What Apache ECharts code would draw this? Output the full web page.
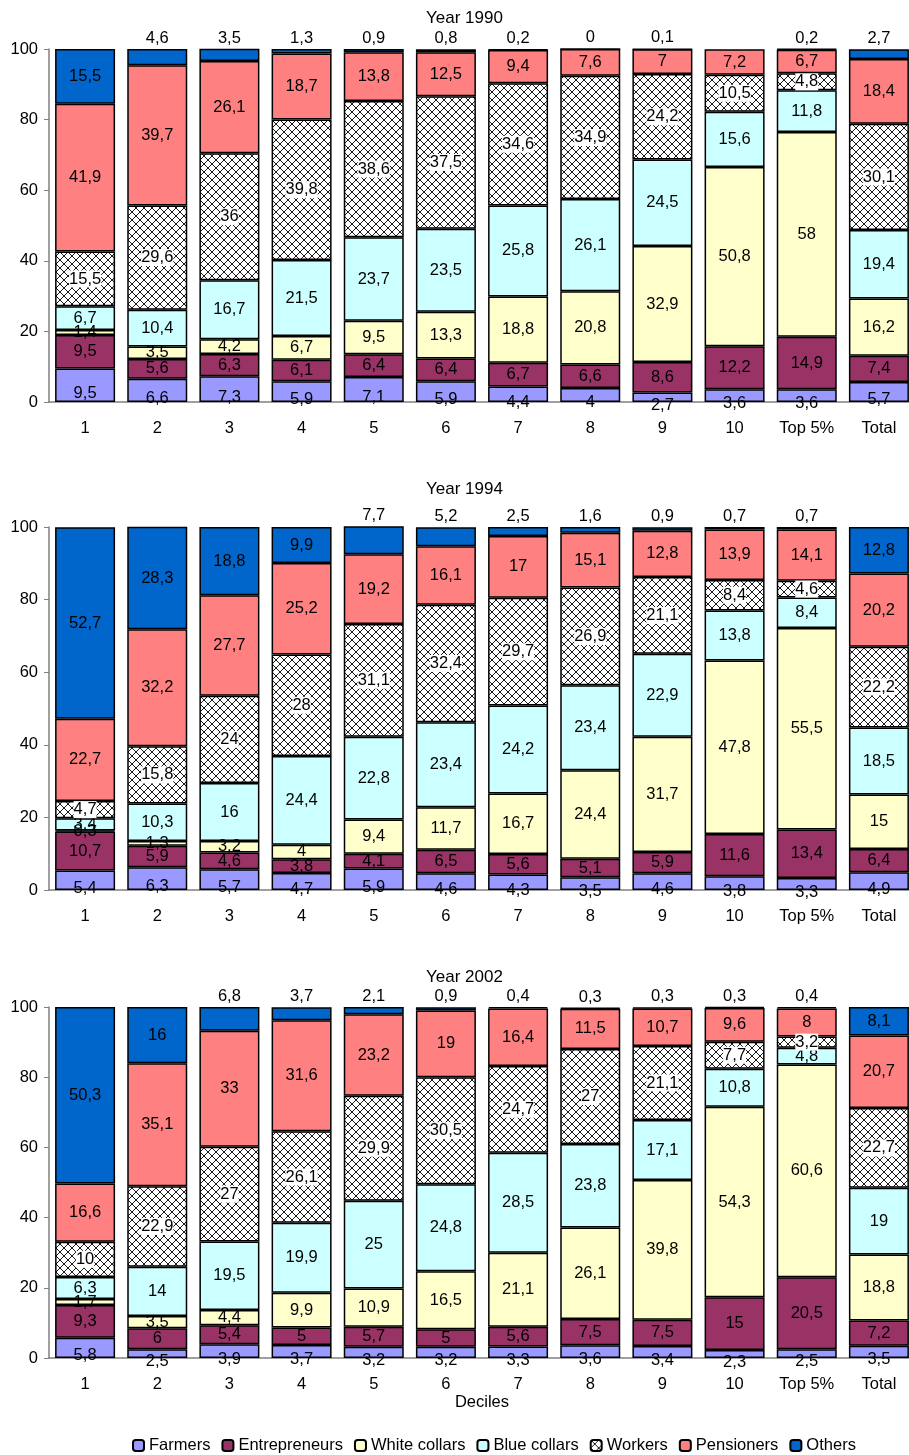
<!DOCTYPE html>
<html>
<head>
<meta charset="utf-8">
<script src="https://cdn.jsdelivr.net/npm/echarts@6/dist/echarts.min.js"></script>
<style>
  html, body { margin: 0; padding: 0; background: #fff; }
  #chart { width: 909px; height: 1455px; }
</style>
</head>
<body>
<div id="chart"></div>
<script>
// categories (deciles)
var categories = ['1', '2', '3', '4', '5', '6', '7', '8', '9', '10', 'Top 5%', 'Total'];
var groups = ['Farmers', 'Entrepreneurs', 'White collars', 'Blue collars', 'Workers', 'Pensioners', 'Others'];
var years = ['Year 1990', 'Year 1994', 'Year 2002'];

// 1990
var farmers1990 = [9.5, 6.6, 7.3, 5.9, 7.1, 5.9, 4.4, 4, 2.7, 3.6, 3.6, 5.7];
var entrepreneurs1990 = [9.5, 5.6, 6.3, 6.1, 6.4, 6.4, 6.7, 6.6, 8.6, 12.2, 14.9, 7.4];
var whiteCollars1990 = [1.4, 3.5, 4.2, 6.7, 9.5, 13.3, 18.8, 20.8, 32.9, 50.8, 58, 16.2];
var blueCollars1990 = [6.7, 10.4, 16.7, 21.5, 23.7, 23.5, 25.8, 26.1, 24.5, 15.6, 11.8, 19.4];
var workers1990 = [15.5, 29.6, 36, 39.8, 38.6, 37.5, 34.6, 34.9, 24.2, 10.5, 4.8, 30.1];
var pensioners1990 = [41.9, 39.7, 26.1, 18.7, 13.8, 12.5, 9.4, 7.6, 7, 7.2, 6.7, 18.4];
var others1990 = [15.5, 4.6, 3.5, 1.3, 0.9, 0.8, 0.2, 0, 0.1, null, 0.2, 2.7];

// 1994
var farmers1994 = [5.4, 6.3, 5.7, 4.7, 5.9, 4.6, 4.3, 3.5, 4.6, 3.8, 3.3, 4.9];
var entrepreneurs1994 = [10.7, 5.9, 4.6, 3.8, 4.1, 6.5, 5.6, 5.1, 5.9, 11.6, 13.4, 6.4];
var whiteCollars1994 = [0.3, 1.3, 3.2, 4, 9.4, 11.7, 16.7, 24.4, 31.7, 47.8, 55.5, 15];
var blueCollars1994 = [3.4, 10.3, 16, 24.4, 22.8, 23.4, 24.2, 23.4, 22.9, 13.8, 8.4, 18.5];
var workers1994 = [4.7, 15.8, 24, 28, 31.1, 32.4, 29.7, 26.9, 21.1, 8.4, 4.6, 22.2];
var pensioners1994 = [22.7, 32.2, 27.7, 25.2, 19.2, 16.1, 17, 15.1, 12.8, 13.9, 14.1, 20.2];
var others1994 = [52.7, 28.3, 18.8, 9.9, 7.7, 5.2, 2.5, 1.6, 0.9, 0.7, 0.7, 12.8];

// 2002
var farmers2002 = [5.8, 2.5, 3.9, 3.7, 3.2, 3.2, 3.3, 3.6, 3.4, 2.3, 2.5, 3.5];
var entrepreneurs2002 = [9.3, 6, 5.4, 5, 5.7, 5, 5.6, 7.5, 7.5, 15, 20.5, 7.2];
var whiteCollars2002 = [1.7, 3.5, 4.4, 9.9, 10.9, 16.5, 21.1, 26.1, 39.8, 54.3, 60.6, 18.8];
var blueCollars2002 = [6.3, 14, 19.5, 19.9, 25, 24.8, 28.5, 23.8, 17.1, 10.8, 4.8, 19];
var workers2002 = [10, 22.9, 27, 26.1, 29.9, 30.5, 24.7, 27, 21.1, 7.7, 3.2, 22.7];
var pensioners2002 = [16.6, 35.1, 33, 31.6, 23.2, 19, 16.4, 11.5, 10.7, 9.6, 8, 20.7];
var others2002 = [50.3, 16, 6.8, 3.7, 2.1, 0.9, 0.4, 0.3, 0.3, 0.3, 0.4, 8.1];

var yTicks = [0, 20, 40, 60, 80, 100];

var yearData = [
  [farmers1990, entrepreneurs1990, whiteCollars1990, blueCollars1990, workers1990, pensioners1990, others1990],
  [farmers1994, entrepreneurs1994, whiteCollars1994, blueCollars1994, workers1994, pensioners1994, others1994],
  [farmers2002, entrepreneurs2002, whiteCollars2002, blueCollars2002, workers2002, pensioners2002, others2002]
];

var FONT = '"Liberation Sans", Arial, sans-serif';
var FS = 16.5;

// crosshatch for workers
function hatch() {
  var c = document.createElement('canvas');
  c.width = 8; c.height = 8;
  var ctx = c.getContext('2d');
  ctx.fillStyle = '#fff';
  ctx.fillRect(0, 0, 8, 8);
  ctx.strokeStyle = '#000';
  ctx.lineWidth = 0.9;
  ctx.beginPath();
  ctx.moveTo(0, 0); ctx.lineTo(8, 8);
  ctx.moveTo(8, 0); ctx.lineTo(0, 8);
  ctx.stroke();
  return c;
}

var colors = ['#9999FF', '#993366', '#FFFFCC', '#CCFFFF', { image: hatch(), repeat: 'repeat' }, '#FF8080', '#0066CC'];

var grids = [
  { left: 49, width: 866, top: 49, height: 353, outerBoundsMode: 'none' },
  { left: 49, width: 866, top: 527, height: 363, outerBoundsMode: 'none' },
  { left: 49, width: 866, top: 1007, height: 351, outerBoundsMode: 'none' }
];
var titleTops = [5, 476, 964];

function fmt(p) {
  return p.value == null ? '' : String(p.value).replace('.', ',');
}

var series = [];
yearData.forEach(function (rows, g) {
  rows.forEach(function (vals, s) {
    var label = { show: true, position: 'inside', color: '#000', fontSize: FS, fontFamily: FONT, formatter: fmt };
    var data = vals;
    if (s === 0) label.offset = [0, 8];
    if (s === 4) label.backgroundColor = '#fff';
    if (s === 6) {
      // small "others" values sit above the bar
      data = vals.map(function (v) {
        if (v != null && v < 8) return { value: v, label: { position: 'top', distance: 2 } };
        return v;
      });
    }
    series.push({
      name: groups[s],
      type: 'bar',
      stack: 'y' + g,
      xAxisIndex: g,
      yAxisIndex: g,
      barWidth: 60,
      data: data,
      itemStyle: { color: colors[s], borderColor: '#000', borderWidth: 1.5 },
      label: label,
      emphasis: { disabled: true }
    });
  });
});

var chart = echarts.init(document.getElementById('chart'));
chart.setOption({
  animation: false,
  backgroundColor: '#fff',
  textStyle: { fontFamily: FONT },
  title: years.map(function (t, i) {
    return { text: t, left: 421, top: titleTops[i], textStyle: { fontSize: 17, fontWeight: 'normal', color: '#000', fontFamily: FONT } };
  }),
  legend: {
    top: 1432,
    left: 127,
    itemWidth: 11,
    itemHeight: 11,
    itemGap: 11,
    textStyle: { fontSize: FS, color: '#000', fontFamily: FONT },
    data: groups
  },
  grid: grids,
  xAxis: grids.map(function (gr, i) {
    return {
      type: 'category',
      gridIndex: i,
      data: categories,
      name: i === 2 ? 'Deciles' : '',
      nameLocation: 'middle',
      nameGap: 36,
      nameTextStyle: { fontSize: FS, color: '#000', fontFamily: FONT },
      axisLine: { lineStyle: { color: '#808080', width: 1.5 } },
      axisTick: { length: 5, lineStyle: { color: '#808080' } },
      axisLabel: { fontSize: FS, color: '#000', margin: 18, fontFamily: FONT, interval: 0 }
    };
  }),
  yAxis: grids.map(function (gr, i) {
    return {
      type: 'value',
      gridIndex: i,
      min: yTicks[0],
      max: yTicks[yTicks.length - 1],
      interval: 20,
      axisLine: { show: true, lineStyle: { color: '#808080', width: 1.5 } },
      axisTick: { show: true, length: 5, lineStyle: { color: '#808080' } },
      splitLine: { show: false },
      axisLabel: { fontSize: FS, color: '#000', margin: 11, fontFamily: FONT }
    };
  }),
  series: series
});
</script>
</body>
</html>
